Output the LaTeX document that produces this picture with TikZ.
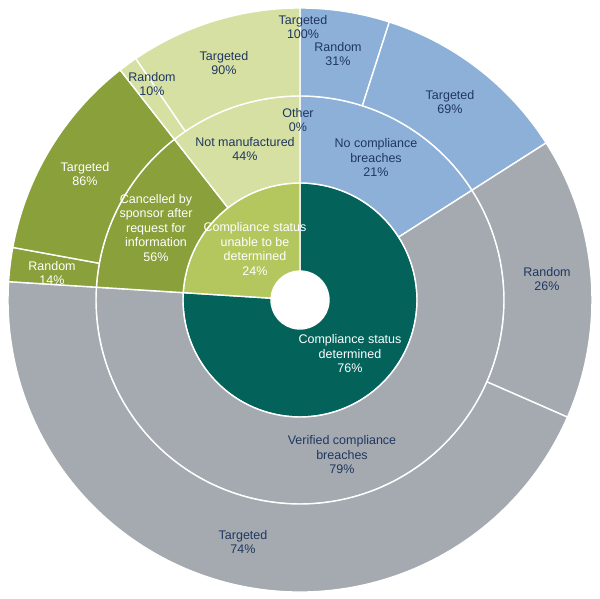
\documentclass[tikz,border=0pt]{standalone}
\usepackage{fontspec}
\setmainfont{Liberation Sans}
\definecolor{cteal}{HTML}{03635B}
\definecolor{cgreen}{HTML}{B4C65E}
\definecolor{colive}{HTML}{8AA03A}
\definecolor{clight}{HTML}{D6E0A3}
\definecolor{cblue}{HTML}{8DB0D9}
\definecolor{cgray}{HTML}{A5AAB0}
\definecolor{cnavy}{HTML}{1F3760}
\newcommand{\sbwedge}[5]{%
  \filldraw[fill=#5,draw=white,line width=1.4pt,line join=round]
    ($(cc)+({90-#3}:#2pt)$) arc[start angle={90-#3}, end angle={90-#4}, radius=#2pt]
    -- ($(cc)+({90-#4}:#1pt)$) arc[start angle={90-#4}, end angle={90-#3}, radius=#1pt] -- cycle;}
\usetikzlibrary{calc}
\tikzset{
  lbl/.style={align=center, inner sep=0pt, font=\fontsize{12.5}{14.5}\selectfont, text=cnavy},
  wlbl/.style={lbl, text=white}
}
\begin{document}
\begin{tikzpicture}[x=1pt,y=1pt]
\useasboundingbox (0,0) rectangle (600,599);
\fill[white] (0,0) rectangle (600,599);
\coordinate (cc) at (300,299);
% inner ring
\sbwedge{29}{117}{0}{273.6}{cteal}
\sbwedge{29}{117}{273.6}{360}{cgreen}
% middle ring
\sbwedge{117}{204}{0}{57.456}{cblue}
\sbwedge{117}{204}{57.456}{273.6}{cgray}
\sbwedge{117}{204}{273.6}{321.984}{colive}
\sbwedge{117}{204}{321.984}{360}{clight}
% outer ring
\sbwedge{204}{292}{0}{17.81}{cblue}
\sbwedge{204}{292}{17.81}{57.456}{cblue}
\sbwedge{204}{292}{57.456}{113.653}{cgray}
\sbwedge{204}{292}{113.653}{273.6}{cgray}
\sbwedge{204}{292}{273.6}{280.374}{colive}
\sbwedge{204}{292}{280.374}{321.984}{colive}
\sbwedge{204}{292}{321.984}{325.786}{clight}
\sbwedge{204}{292}{325.786}{360}{clight}
% labels
\node[wlbl] (det) at (350,599-354) {Compliance status\\determined\\76\%};
\node[wlbl] (unable) at (255,599-249) {Compliance status\\unable to be\\determined\\24\%};
\node[lbl] (nocomp) at (376,599-158) {No compliance\\breaches\\21\%};
\node[lbl] (verif) at (342,599-455) {Verified compliance\\breaches\\79\%};
\node[lbl] (notman) at (245,599-149) {Not manufactured\\44\%};
\node[lbl] (other) at (298,599-120) {Other\\0\%};
\node[wlbl] (cancel) at (156,599-228) {Cancelled by\\sponsor after\\request for\\information\\56\%};
\node[wlbl] (t86) at (85,599-174) {Targeted\\86\%};
\node[wlbl] (r14) at (52,599-273) {Random\\14\%};
\node[lbl] (r10) at (152,599-84) {Random\\10\%};
\node[lbl] (t90) at (224,599-63) {Targeted\\90\%};
\node[lbl] (t100) at (303,599-27) {Targeted\\100\%};
\node[lbl] (r31) at (338,599-54) {Random\\31\%};
\node[lbl] (t69) at (450,599-102) {Targeted\\69\%};
\node[lbl] (r26) at (547,599-279) {Random\\26\%};
\node[lbl] (t74) at (243,599-542) {Targeted\\74\%};
\end{tikzpicture}
\end{document}
